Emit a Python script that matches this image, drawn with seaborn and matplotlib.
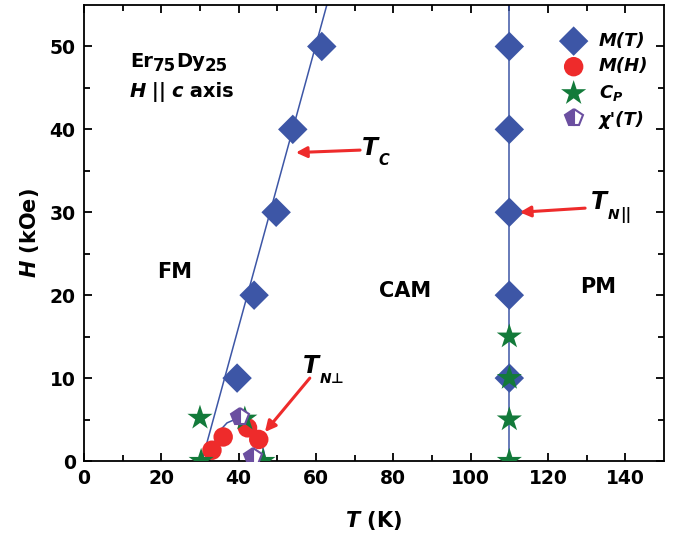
import matplotlib
matplotlib.use("Agg")
import matplotlib.pyplot as plt
import seaborn as sns

# ---------------- data ----------------
mt_T = [61.5, 54.0, 49.7, 44.0, 39.6, 110, 110, 110, 110, 110]
mt_H = [50, 40, 30, 20, 10, 50, 40, 30, 20, 10]

mh_T = [33.1, 36.0, 42.3, 45.2]
mh_H = [1.3, 2.9, 4.0, 2.6]

cp_T = [30.0, 30.3, 41.6, 46.3, 110, 110, 110, 110]
cp_H = [5.2, 0.0, 5.1, 0.0, 0, 5, 10, 15]

chi_T = [40.3, 43.7]
chi_H = [5.3, 0.5]

tc_line_T = [30.5, 62.8]
tc_line_H = [0, 55]
tn_line_T = [110, 110]
tn_line_H = [0, 55]
dome_T = [32.5, 33.5, 35.0, 37.0, 39.0, 41.0, 43.0, 45.0, 46.5, 47.0]
dome_H = [0.0, 2.0, 3.6, 4.6, 5.0, 5.0, 4.5, 3.4, 1.2, 0.0]

x_ticks = [0, 20, 40, 60, 80, 100, 120, 140]
y_ticks = [0, 10, 20, 30, 40, 50]

# ---------------- style ----------------
sns.set_theme(style="ticks")
FONT = "DejaVu Sans"
plt.rcParams["font.family"] = [FONT]
plt.rcParams["font.weight"] = "bold"
plt.rcParams["text.color"] = "black"
plt.rcParams["axes.labelcolor"] = "black"
plt.rcParams["xtick.color"] = "black"
plt.rcParams["ytick.color"] = "black"
plt.rcParams["mathtext.fontset"] = "custom"
plt.rcParams["mathtext.rm"] = FONT + ":bold"
plt.rcParams["mathtext.it"] = FONT + ":italic:bold"
plt.rcParams["mathtext.bf"] = FONT + ":bold"

BLUE = "#3d56a6"
RED = "#ee2b2b"
GREEN = "#137a3a"
PURPLE = "#6b4fa0"

fig = plt.figure(figsize=(6.75, 5.34), dpi=100)
ax = fig.add_axes([0.1244, 0.1367, 0.9837 - 0.1244, 0.9906 - 0.1367])

# lines
for lx, ly in [(tc_line_T, tc_line_H), (tn_line_T, tn_line_H), (dome_T, dome_H)]:
    sns.lineplot(x=lx, y=ly, ax=ax, color=BLUE, lw=1.1, sort=False, estimator=None, zorder=2)

# markers
sns.scatterplot(x=mt_T, y=mt_H, ax=ax, marker="D", s=15**2, color=BLUE, edgecolor="none",
                label="M(T)", zorder=3, linewidth=0)
sns.scatterplot(x=mh_T, y=mh_H, ax=ax, marker="o", s=14**2, color=RED, edgecolor="none",
                label="M(H)", zorder=4, linewidth=0)
sns.scatterplot(x=cp_T, y=cp_H, ax=ax, marker="*", s=19**2, color=GREEN, edgecolor="none",
                label="C$_P$", zorder=5, linewidth=0)
ax.plot(chi_T, chi_H, linestyle="none", marker="p", markersize=13, markerfacecolor=PURPLE,
        markerfacecoloralt="white", fillstyle="left", markeredgecolor=PURPLE, markeredgewidth=1.5,
        label="\u03c7'(T)", zorder=6)

ax.set_xlim(0, 150)
ax.set_ylim(0, 55)
ax.set_xticks(x_ticks)
ax.set_yticks(y_ticks)
ax.set_xticks(range(10, 150, 20), minor=True)
ax.set_yticks(range(5, 55, 10), minor=True)
ax.tick_params(which="both", direction="in", top=True, right=True, labelsize=13.5, width=1.3)
ax.tick_params(which="major", length=6, pad=6)
ax.tick_params(which="minor", length=4)
for lab in ax.get_xticklabels() + ax.get_yticklabels():
    lab.set_fontweight("bold")
for sp in ax.spines.values():
    sp.set_linewidth(1.3)
    sp.set_color("black")

ax.set_xlabel("$T$ (K)", fontsize=15, fontweight="bold", labelpad=15)
ax.set_ylabel("$H$ (kOe)", fontsize=15, fontweight="bold", labelpad=6)

renderer = fig.canvas.get_renderer()


def seq_text(x, y, parts):
    """parts: (string, size, dx_pt, dy_pt, style) drawn one after another along a baseline."""
    xoff = 0.0
    for s, size, dx, dy, style in parts:
        xoff += dx
        t = ax.annotate(s, xy=(x, y), xycoords="data", xytext=(xoff, dy), textcoords="offset points",
                        fontsize=size, fontstyle=style, fontweight="bold", ha="left", va="baseline",
                        color="black")
        xoff += t.get_window_extent(renderer).width * 72.0 / fig.dpi


seq_text(11.9, 47.5, [("Er", 14, 0, 0, "normal"), ("75", 12, 0, -3, "normal"),
                      ("Dy", 14, 0, 0, "normal"), ("25", 12, 0, -3, "normal")])
seq_text(11.9, 43.9, [("H", 14, 0, 0, "italic"), (" || ", 14, -1, 0, "normal"),
                      ("c", 14, -1, 0, "italic"), (" axis", 14, 0, 0, "normal")])

ax.text(23.5, 22.8, "FM", fontsize=15, fontweight="bold", ha="center", va="center")
ax.text(83.0, 20.5, "CAM", fontsize=15, fontweight="bold", ha="center", va="center")
ax.text(133.0, 21.0, "PM", fontsize=15, fontweight="bold", ha="center", va="center")

arrow = dict(arrowstyle="-|>", color=RED, lw=2.2, mutation_scale=16, shrinkA=0, shrinkB=0)
ax.annotate("", xy=(54.8, 37.2), xytext=(71.4, 37.5), arrowprops=arrow)
seq_text(71.9, 36.9, [("T", 17, 0, 0, "italic"), ("C", 10.5, 0.5, -7, "italic")])
ax.annotate("", xy=(112.7, 30.0), xytext=(129.6, 30.5), arrowprops=arrow)
seq_text(131.0, 30.4, [("T", 17, 0, 0, "italic"), ("N", 10, 0.5, -7, "italic"),
                       ("||", 11, 0.5, -7, "normal")])
ax.annotate("", xy=(46.8, 3.5), xytext=(58.4, 10.0), arrowprops=arrow)
seq_text(56.6, 10.6, [("T", 17, 0, 0, "italic"), ("N", 10, 0.5, -7, "italic"),
                      ("\u22a5", 10, 0, -7, "normal")])

leg = ax.legend(loc="upper left", bbox_to_anchor=(0.81, 0.957), frameon=False,
                prop=dict(style="italic", weight="bold", size=13), handletextpad=0.7,
                labelspacing=0.42, borderaxespad=0, handlelength=1.4)

fig.savefig("out.png", dpi=100)
